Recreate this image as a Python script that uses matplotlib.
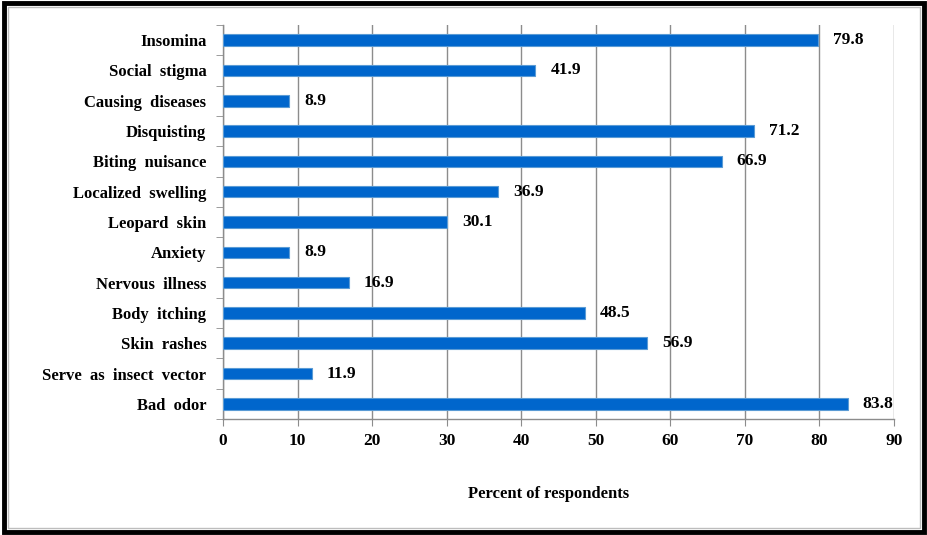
import matplotlib.pyplot as plt
import matplotlib.patches as mpatches
import numpy as np

plt.rcParams['font.family'] = ['Liberation Serif', 'DejaVu Serif']

# categories listed top to bottom as in the chart
categories = ['Insomina', 'Social  stigma', 'Causing  diseases', 'Disquisting',
              'Biting  nuisance', 'Localized  swelling', 'Leopard  skin', 'Anxiety',
              'Nervous  illness', 'Body  itching', 'Skin  rashes',
              'Serve  as  insect  vector', 'Bad  odor']
values = [79.8, 41.9, 8.9, 71.2, 66.9, 36.9, 30.1, 8.9, 16.9, 48.5, 56.9, 11.9, 83.8]
xticks = [0, 10, 20, 30, 40, 50, 60, 70, 80, 90]

BAR_COLOR = '#0066cc'
GRID_COLOR = '#8c8c8c'

fig = plt.figure(figsize=(9.28, 5.35), dpi=100)
ax = fig.add_axes([0.2403, 0.2168, 0.7231, 0.7365])

n = len(categories)
y = np.arange(n)[::-1]
ax.barh(y, values, height=0.38, color=BAR_COLOR, edgecolor='#5a9bd5',
        linewidth=0.8, zorder=3)

for yi, v in zip(y, values):
    ax.text(v + 2.0, yi, f'{v:.1f}', va='center', ha='left',
            fontsize=12.5, fontweight='bold', zorder=4)

ax.set_xlim(0, 90)
ax.set_ylim(-0.5, n - 0.5)
ax.set_xticks(xticks)
ax.set_xticklabels([str(t) for t in xticks], fontsize=12.5, fontweight='bold')
ax.set_yticks(y)
ax.set_yticklabels(categories, fontsize=12, fontweight='bold')

# ticks on the y axis sit between categories
ax.set_yticks(np.arange(-0.5, n, 1.0), minor=True)
ax.tick_params(axis='y', which='major', length=0, pad=12)
ax.tick_params(axis='y', which='minor', length=5, color=GRID_COLOR)
ax.tick_params(axis='x', which='major', length=5, color=GRID_COLOR, pad=5)

ax.grid(axis='x', color=GRID_COLOR, linewidth=1.0, zorder=0)
for s in ['top', 'right']:
    ax.spines[s].set_visible(False)
for s in ['left', 'bottom']:
    ax.spines[s].set_color(GRID_COLOR)
    ax.spines[s].set_linewidth(1.0)

ax.set_xlabel('Percent of respondents', fontsize=12, fontweight='bold')
ax.xaxis.set_label_coords(0.485, -0.17)

# frame around the figure
fig.patches.append(mpatches.Rectangle((0.004, 0.006), 0.992, 0.988, transform=fig.transFigure,
                                      fill=False, edgecolor='black', linewidth=3.5))
fig.patches.append(mpatches.Rectangle((0.009, 0.014), 0.982, 0.972, transform=fig.transFigure,
                                      fill=False, edgecolor='#bdbdbd', linewidth=1.0))

fig.savefig('out.png', dpi=100)
